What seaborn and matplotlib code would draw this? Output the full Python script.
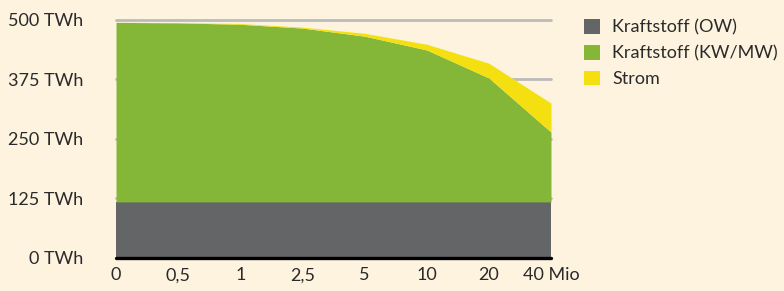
import matplotlib
matplotlib.use("Agg")
import matplotlib.pyplot as plt
import seaborn as sns
import numpy as np
from matplotlib.patches import Patch

# Data
categories = ["0", "0,5", "1", "2,5", "5", "10", "20", "40 Mio"]
kraftstoff_ow = [117, 117, 117, 117, 117, 117, 117, 117]
kraftstoff_kwmw = [378, 377, 374, 366, 349, 320, 261, 147]
strom = [0, 0.5, 1.5, 2, 6, 12, 31, 61]
series_labels = ["Kraftstoff (OW)", "Kraftstoff (KW/MW)", "Strom"]
y_ticks = [0, 125, 250, 375, 500]
y_ticklabels = ["0 TWh", "125 TWh", "250 TWh", "375 TWh", "500 TWh"]

bg = "#fdf3df"
colors = ["#646567", "#84b737", "#f4e010"]

sns.set_style("white")
plt.rcParams["font.family"] = ["Lato", "DejaVu Sans"]

fig = plt.figure(figsize=(7.84, 2.91), dpi=100, facecolor=bg)
ax = fig.add_axes([116 / 784, 33.5 / 291, 435 / 784, 242.25 / 291])
ax.set_facecolor(bg)

x = np.arange(len(categories))
for yv in y_ticks[1:]:
    ax.axhline(yv, color="#bbbbbb", lw=2.0, zorder=0, clip_on=False)

ax.stackplot(x, kraftstoff_ow, kraftstoff_kwmw, strom, colors=colors,
             linewidth=0, zorder=2)
ax.axhline(0, color="black", lw=2.4, zorder=3, clip_on=False)

ax.set_xlim(0, len(categories) - 1)
ax.set_ylim(0, 510)
ax.set_xticks(x)
ax.set_xticklabels(categories)
ax.set_yticks(y_ticks)
ax.set_yticklabels(y_ticklabels, ha="right")
ax.tick_params(axis="both", length=0, labelsize=13, colors="#2a2a2a")
ax.tick_params(axis="y", pad=23.5)
ax.tick_params(axis="x", pad=7)
for s in ax.spines.values():
    s.set_visible(False)
ax.grid(False)

handles = [Patch(facecolor=c, edgecolor="none") for c in colors]
fig.legend(handles, series_labels, loc="upper left",
           bbox_to_anchor=(584 / 784, 1 - 19 / 291), frameon=False,
           fontsize=13, handlelength=0.9, handleheight=0.9,
           handletextpad=0.65, labelspacing=0.5, borderpad=0,
           borderaxespad=0, labelcolor="#2a2a2a")

fig.savefig("out.png", dpi=100, facecolor=bg)
